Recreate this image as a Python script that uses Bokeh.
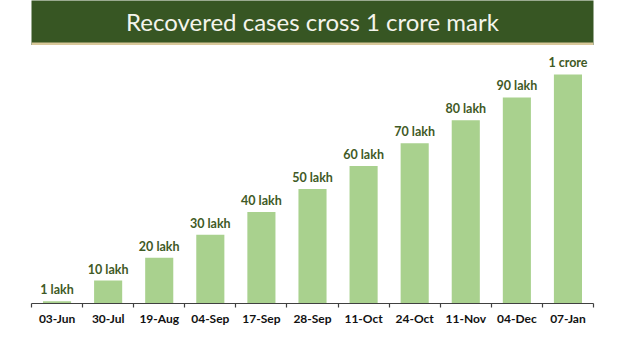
from bokeh.plotting import figure
from bokeh.models import (ColumnDataSource, Range1d, LinearAxis, FixedTicker, LabelSet)
from bokeh.layouts import column
from bokeh.embed import file_html
from bokeh.resources import INLINE
from bokeh.core.properties import value

title_text = "Recovered cases cross 1 crore mark"
dates = ["03-Jun", "30-Jul", "19-Aug", "04-Sep", "17-Sep", "28-Sep",
         "11-Oct", "24-Oct", "11-Nov", "04-Dec", "07-Jan"]
recovered_lakh = [1, 10, 20, 30, 40, 50, 60, 70, 80, 90, 100]
bar_labels = ["1 lakh", "10 lakh", "20 lakh", "30 lakh", "40 lakh", "50 lakh",
              "60 lakh", "70 lakh", "80 lakh", "90 lakh", "1 crore"]

n = len(dates)
centers = [i + 0.5 for i in range(n)]
edges = list(range(n + 1))

W = 625
# ---- title band ----
t = figure(width=W, height=45, x_range=Range1d(0, 1), y_range=Range1d(0, 45),
           output_backend="svg", toolbar_location=None, min_border=0,
           x_axis_location=None, y_axis_location=None, outline_line_color=None,
           background_fill_color="#375623", border_fill_color="#ffffff")
t.grid.visible = False
t.quad(left=0, right=1, bottom=0, top=3, color="#d9c89a", line_color=None)
t.text(x=[0.5], y=[24.5], text=[title_text], text_align="center", text_baseline="middle",
       text_color="#f4f4ec", text_font=value("Lato"), text_font_size="24px")

# ---- chart ----
src = ColumnDataSource(dict(x=centers, d=dates, v=recovered_lakh, lab=bar_labels))
p = figure(width=W, height=306, x_range=Range1d(0, n), y_range=Range1d(0, 112.66),
           output_backend="svg", toolbar_location=None,
           x_axis_location=None, y_axis_location=None,
           min_border_left=31, min_border_right=32, min_border_top=0,
           min_border_bottom=48, outline_line_color=None)
p.grid.visible = False
p.vbar(x="x", top="v", width=0.55, source=src, color="#a9d18e", line_color=None)
p.add_layout(LabelSet(x="x", y="v", text="lab", source=src, text_align="center",
                      y_offset=4, text_color="#3f5a26", text_font=value("Lato"),
                      text_font_style="bold", text_font_size="12.5px"))

xaxis = LinearAxis(ticker=FixedTicker(ticks=centers, minor_ticks=edges),
                   major_label_overrides={c: d for c, d in zip(centers, dates)},
                   axis_line_color="#404040", axis_line_width=1.2,
                   major_tick_line_color=None, major_tick_out=0, major_tick_in=0,
                   minor_tick_line_color="#404040", minor_tick_out=4, minor_tick_in=0,
                   minor_tick_line_width=1.2,
                   major_label_text_font="Lato",
                   major_label_text_font_style="bold",
                   major_label_text_font_size="12px",
                   major_label_text_color="#111111",
                   major_label_standoff=3)
p.add_layout(xaxis, "below")

layout = column(t, p, spacing=0)
open("out.html", "w").write(file_html(layout, INLINE))
